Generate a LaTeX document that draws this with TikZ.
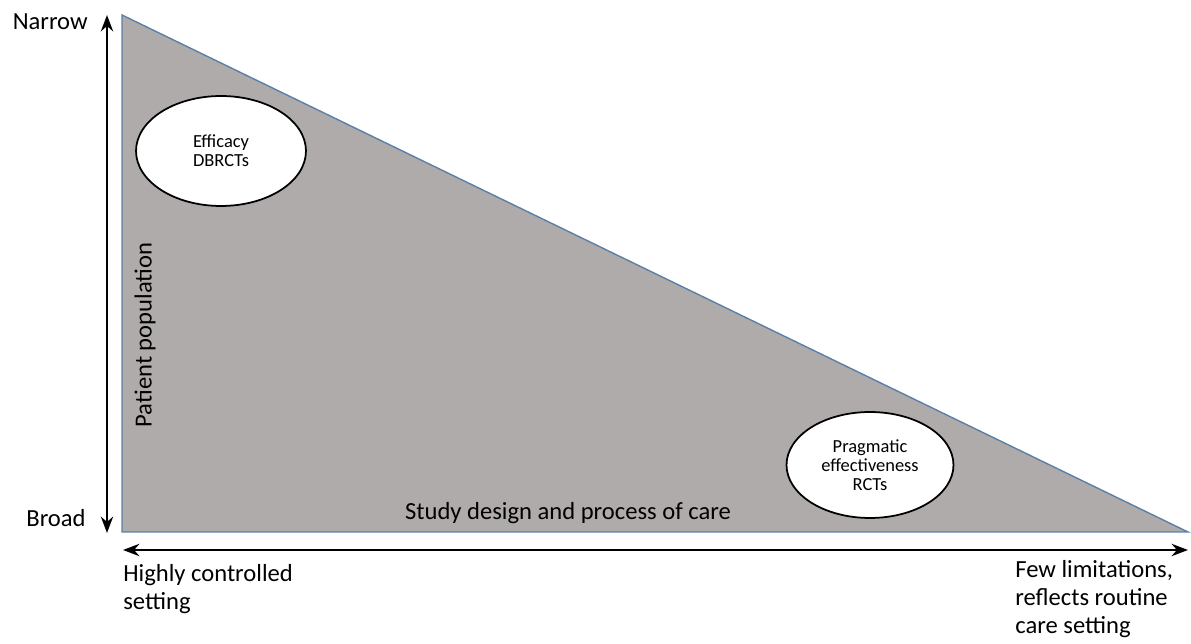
\documentclass[tikz,border=0pt]{standalone}
\usepackage{fontspec}
\setmainfont{Carlito}
\usetikzlibrary{arrows.meta,shapes.geometric}
\tikzset{>=Stealth}
\definecolor{wedgegray}{RGB}{175,171,171}
\definecolor{wedgeblue}{RGB}{91,127,167}
\tikzset{
  axisarrow/.style={<->,line width=1.4pt},
  axislabel/.style={inner sep=0pt,font=\fontsize{14}{16}\selectfont,align=left},
  trial/.style={ellipse,draw,line width=1pt,fill=white,inner sep=0pt,
    align=center,font=\fontsize{10.5}{10.8}\selectfont}
}

\begin{document}
\begin{tikzpicture}[x=0.02cm,y=-0.02cm]
\useasboundingbox (0,0) rectangle (1191,644);
% the wedge
\coordinate (top) at (122,15);
\coordinate (corner) at (122,532);
\coordinate (tip) at (1188,532);
\draw[fill=wedgegray,draw=wedgeblue,line width=.8pt]
  (top) -- (corner) -- (tip) -- cycle;
% the two trial kinds
\node[trial,minimum width=3.4cm,minimum height=2.2cm] (efficacy)
  at (221,151) {Efficacy\\DBRCTs};
\node[trial,minimum width=3.34cm,minimum height=2.12cm] (pragmatic)
  at (870,465) {Pragmatic\\effectiveness\\RCTs};
% axes
\coordinate (ytop) at (107,15);
\coordinate (ybot) at (107,533);
\coordinate (xleft) at (123,550);
\coordinate (xright) at (1188,550);
\draw[axisarrow] (ytop) -- (ybot);
\draw[axisarrow] (xleft) -- (xright);
% labels
\node[axislabel,anchor=east] (narrow) at (88,22) {Narrow};
\node[axislabel,anchor=east] (broad) at (86,518) {Broad};
\node[axislabel,rotate=90] (patients) at (145,335) {Patient population};
\node[axislabel] (design) at (568,513) {Study design and process of care};
\node[axislabel,anchor=base west] (controlled) at (123,610)
  {Highly controlled\\setting};
\node[axislabel,anchor=base west] (routine) at (1015,634)
  {Few limitations,\\reflects routine\\care setting};
\end{tikzpicture}
\end{document}
